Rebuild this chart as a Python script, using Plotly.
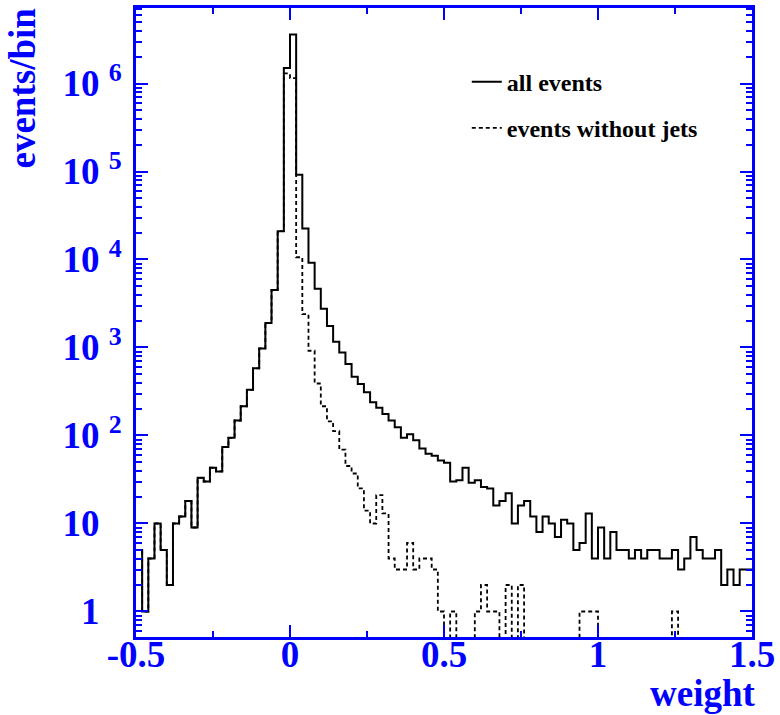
import numpy as np
import plotly.graph_objects as go

# Histogram binning: 100 bins of width 0.02 from -0.5 to 1.5
x_low = -0.5
x_high = 1.5
n_bins = 100

# events/bin, all events
all_events = [
    5, 1, 4, 10, 5, 2, 10, 12, 18, 9,
    33, 30, 43, 39, 74, 94, 148, 215, 330, 580,
    975, 1900, 4500, 21000, 1.5e6, 3.6e6, 9.2e4, 2.25e4, 9200, 4650,
    2750, 1750, 1160, 877, 649, 466, 385, 310, 238, 206,
    176, 148, 124, 94, 103, 88, 71, 62, 59, 52,
    49, 30, 31, 43, 29, 31, 26, 25, 16, 18,
    22, 10, 16, 18, 12, 8, 12, 10, 7, 11,
    10, 5, 6, 13, 4, 9, 4, 8, 5, 5,
    4, 5, 4, 5, 5, 4, 4, 5, 3, 4,
    7, 5, 4, 4, 5, 2, 3, 2, 3, 3,
]

# events/bin, events without jets
no_jets = [
    5, 1, 4, 10, 5, 2, 10, 12, 18, 9,
    33, 30, 43, 39, 74, 94, 148, 215, 330, 580,
    975, 1900, 4500, 21000, 1.3e6, 1.15e6, 1.06e4, 2390, 918, 390,
    215, 145, 112, 69, 45, 37, 25, 14, 10, 21,
    13, 4, 3, 3, 6, 3, 4, 4, 3, 1,
    0, 1, 0, 0, 0, 1, 2, 1, 1, 0,
    2, 0, 2, 0, 0, 0, 0, 0, 0, 0,
    0, 0, 1, 1, 1, 0, 0, 0, 0, 0,
    0, 0, 0, 0, 0, 0, 0, 1, 0, 0,
    0, 0, 0, 0, 0, 0, 0, 0, 0, 0,
]

x_tick_vals = [-0.5, 0, 0.5, 1, 1.5]
x_tick_text = ["-0.5", "0", "0.5", "1", "1.5"]
y_tick_vals = [1, 10, 100, 1e3, 1e4, 1e5, 1e6]
y_tick_text = ["1", "10", "10 <sup>2</sup>", "10 <sup>3</sup>", "10 <sup>4</sup>",
               "10 <sup>5</sup>", "10 <sup>6</sup>"]

assert len(all_events) == n_bins and len(no_jets) == n_bins

edges = np.linspace(x_low, x_high, n_bins + 1)
FLOOR = 1e-3  # empty bins drop below the log axis (clipped at the frame)


def step_y(vals):
    v = np.asarray(vals, dtype=float)
    v = np.where(v > 0, v, FLOOR)
    return np.append(v, v[-1])


BLUE = "#0000ff"
FONT = "Liberation Serif"

# pad labels without exponent so numbers line up like the reference
pad = "<span style='color:rgba(0,0,0,0)'> <sup>0</sup></span>"
y_text = [t if "sup" in t else t + pad for t in y_tick_text]

minor_y = [k * 10.0 ** d for d in range(-1, 7) for k in range(2, 10)]

fig = go.Figure()
fig.add_trace(go.Scatter(
    x=edges, y=step_y(no_jets), mode="lines", line_shape="hv",
    line=dict(color="black", width=1.8, dash="4px,3px"),
    name="events without jets", legendrank=2, legendgroup="b",
    hoverinfo="skip",
))
fig.add_trace(go.Scatter(
    x=edges, y=step_y(all_events), mode="lines", line_shape="hv",
    line=dict(color="black", width=2),
    name="all events", legendrank=1, legendgroup="a",
    hoverinfo="skip",
))

fig.update_layout(
    width=780, height=715,
    margin=dict(l=136, r=25, t=5, b=78),
    paper_bgcolor="white", plot_bgcolor="white",
    showlegend=True,
    legend=dict(
        x=0.537, y=0.918, xanchor="left", yanchor="top",
        bgcolor="rgba(0,0,0,0)",
        font=dict(family=FONT, size=24, color="black", weight="bold"),
        tracegroupgap=12,
    ),
    xaxis=dict(
        range=[x_low, x_high],
        tickvals=x_tick_vals, ticktext=x_tick_text,
        ticks="inside", ticklen=12, tickwidth=2, tickcolor=BLUE,
        minor=dict(dtick=0.25, tick0=0, ticks="inside", ticklen=6,
                   tickwidth=2, tickcolor=BLUE, showgrid=False),
        showline=True, linecolor=BLUE, linewidth=3, mirror="allticks",
        showgrid=False, zeroline=False,
        ticklabelstandoff=-17,
        tickfont=dict(family=FONT, size=37, color=BLUE, weight="bold"),
    ),
    yaxis=dict(
        type="log", range=[-0.29, 6.858],
        tickvals=y_tick_vals, ticktext=y_text,
        ticks="inside", ticklen=12, tickwidth=2, tickcolor=BLUE,
        minor=dict(tickvals=minor_y, ticks="inside", ticklen=6,
                   tickwidth=2, tickcolor=BLUE, showgrid=False),
        showline=True, linecolor=BLUE, linewidth=3, mirror="allticks",
        showgrid=False, zeroline=False,
        ticklabelstandoff=4,
        tickfont=dict(family=FONT, size=37, color=BLUE, weight="bold"),
    ),
    annotations=[
        dict(text="events/bin", xref="paper", yref="paper", x=0, y=1,
             xanchor="center", yanchor="top", xshift=-114, yshift=2,
             textangle=-90, showarrow=False,
             font=dict(family=FONT, size=37, color=BLUE, weight="bold")),
        dict(text="weight", xref="paper", yref="paper", x=1, y=0,
             xanchor="right", yanchor="top", xshift=6, yshift=-34,
             showarrow=False,
             font=dict(family=FONT, size=37, color=BLUE, weight="bold")),
    ],
)

fig.write_html("out.html", config={"displayModeBar": False},
               post_script="document.body.style.margin='0px';")
